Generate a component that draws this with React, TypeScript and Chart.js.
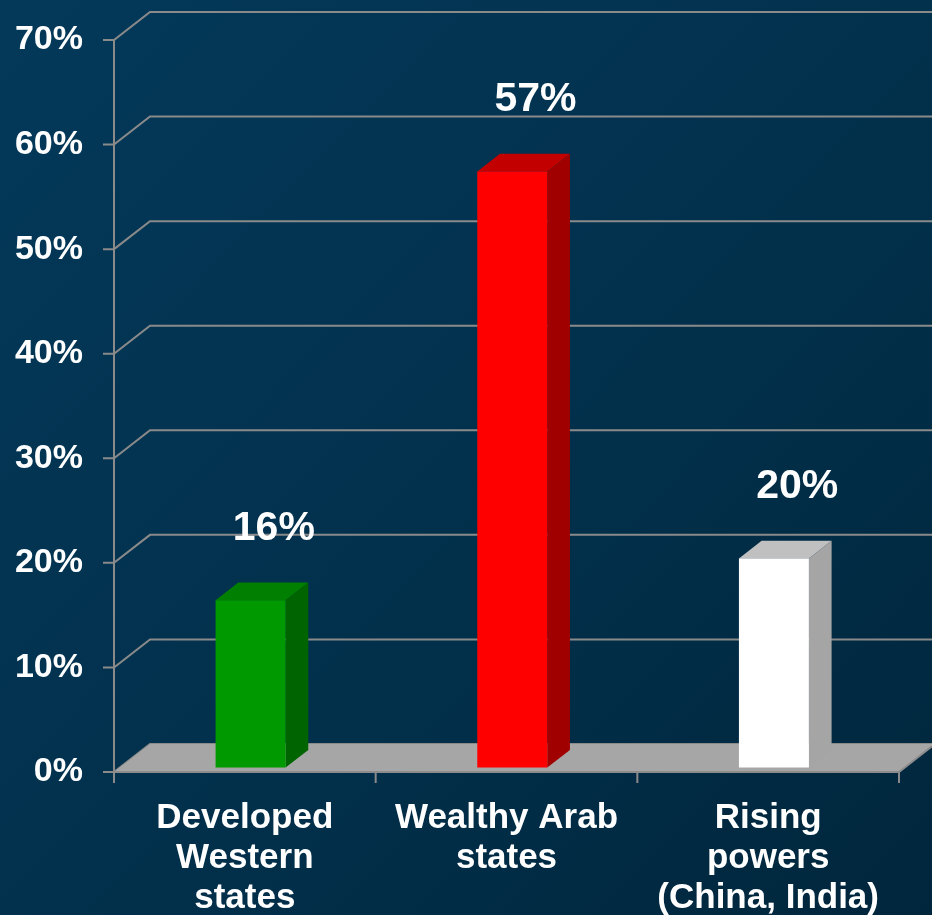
import React, { useEffect, useRef } from 'react';
import { Chart, registerables } from 'chart.js';

Chart.register(...registerables);

// ---- data ----
const categories: string[][] = [
  ['Developed', 'Western', 'states'],
  ['Wealthy Arab', 'states'],
  ['Rising', 'powers', '(China, India)'],
];
const shares: number[] = [16, 57, 20];
const yMin = 0;
const yMax = 70;
const yStep = 10;

// ---- styles ----
const FONT = '"Liberation Sans", Arial, Helvetica, sans-serif';
const FRONT_COLORS = ['#009a00', '#ff0000', '#ffffff'];
const TOP_COLORS = ['#007f00', '#c20000', '#c0c0c0'];
const SIDE_COLORS = ['#006400', '#a00000', '#a5a5a5'];
const GRID_COLOR = '#8a8a8a';
const FLOOR_COLOR = '#a6a6a6';
const FLOOR_EDGE = '#8c8c8c';

// 3D geometry (pixels)
const DEPTH_X = 36;
const DEPTH_Y = -28;
const BAR_OFF = 0.16; // fraction of depth where bar front sits
const BAR_DEPTH = 0.63; // fraction of depth occupied by bar
const TICK_LEN = 11;

const threeD = {
  id: 'threeD',
  beforeDraw(chart: any) {
    const { ctx, width, height } = chart;
    ctx.save();
    const g = ctx.createLinearGradient(0, 0, width, height);
    g.addColorStop(0, '#04395a');
    g.addColorStop(0.5, '#02314d');
    g.addColorStop(1, '#00263c');
    ctx.fillStyle = g;
    ctx.fillRect(0, 0, width, height);
    ctx.restore();
  },
  beforeDatasetsDraw(chart: any) {
    const { ctx, chartArea, scales } = chart;
    const x = scales.x;
    const y = scales.y;
    const L = chartArea.left;
    const R = chartArea.right;
    const y0 = y.getPixelForValue(yMin);
    ctx.save();
    ctx.lineWidth = 2;
    ctx.strokeStyle = GRID_COLOR;
    // walls: left wall diagonals + back wall horizontals + y tick marks
    y.ticks.forEach((t: any) => {
      const py = y.getPixelForValue(t.value);
      ctx.beginPath();
      ctx.moveTo(L - TICK_LEN, py);
      ctx.lineTo(L, py);
      ctx.lineTo(L + DEPTH_X, py + DEPTH_Y);
      ctx.lineTo(chart.width + DEPTH_X, py + DEPTH_Y);
      ctx.stroke();
    });
    // floor
    ctx.fillStyle = FLOOR_COLOR;
    ctx.beginPath();
    ctx.moveTo(L, y0);
    ctx.lineTo(L + DEPTH_X, y0 + DEPTH_Y);
    ctx.lineTo(R + DEPTH_X, y0 + DEPTH_Y);
    ctx.lineTo(R, y0);
    ctx.closePath();
    ctx.fill();
    ctx.strokeStyle = FLOOR_EDGE;
    ctx.beginPath();
    ctx.moveTo(L, y0);
    ctx.lineTo(R, y0);
    ctx.lineTo(R + DEPTH_X, y0 + DEPTH_Y);
    ctx.stroke();
    // front vertical axis line
    ctx.strokeStyle = GRID_COLOR;
    ctx.beginPath();
    ctx.moveTo(L, y.getPixelForValue(yMax));
    ctx.lineTo(L, y0 + TICK_LEN);
    ctx.stroke();
    // category ticks
    for (let i = 0; i <= categories.length; i++) {
      const px = x.getPixelForValue(i - 0.5);
      ctx.beginPath();
      ctx.moveTo(px, y0);
      ctx.lineTo(px, y0 + TICK_LEN);
      ctx.stroke();
    }
    ctx.restore();
  },
  afterDatasetsDraw(chart: any) {
    const { ctx, scales } = chart;
    const y = scales.y;
    const meta = chart.getDatasetMeta(0);
    const ox = DEPTH_X * BAR_OFF;
    const oy = DEPTH_Y * BAR_OFF;
    const bx = DEPTH_X * BAR_DEPTH;
    const by = DEPTH_Y * BAR_DEPTH;
    ctx.save();
    meta.data.forEach((el: any, i: number) => {
      const w = el.width;
      const left = el.x - w / 2 + ox;
      const right = left + w;
      const top = el.y + oy;
      const bottom = el.base + oy;
      // side
      ctx.fillStyle = SIDE_COLORS[i];
      ctx.beginPath();
      ctx.moveTo(right, top);
      ctx.lineTo(right + bx, top + by);
      ctx.lineTo(right + bx, bottom + by);
      ctx.lineTo(right, bottom);
      ctx.closePath();
      ctx.fill();
      // top
      ctx.fillStyle = TOP_COLORS[i];
      ctx.beginPath();
      ctx.moveTo(left, top);
      ctx.lineTo(left + bx, top + by);
      ctx.lineTo(right + bx, top + by);
      ctx.lineTo(right, top);
      ctx.closePath();
      ctx.fill();
      // front
      ctx.fillStyle = FRONT_COLORS[i];
      ctx.fillRect(left, top, w, bottom - top);
    });
    // value labels
    ctx.fillStyle = '#ffffff';
    ctx.font = `bold 41px ${FONT}`;
    ctx.textAlign = 'center';
    ctx.textBaseline = 'middle';
    meta.data.forEach((el: any, i: number) => {
      const v = shares[i];
      ctx.fillText(`${v}%`, el.x + 29, y.getPixelForValue(v) - 76);
    });
    ctx.restore();
  },
};

export default function App() {
  const ref = useRef<HTMLCanvasElement | null>(null);
  useEffect(() => {
    document.body.style.margin = '0';
    document.body.style.background = '#02314d';
    const canvas = ref.current;
    if (!canvas) return;
    const chart = new Chart(canvas, {
      type: 'bar',
      data: {
        labels: categories,
        datasets: [
          {
            data: shares,
            backgroundColor: 'rgba(0,0,0,0)',
            borderWidth: 0,
            barPercentage: 0.2675,
            categoryPercentage: 1,
          },
        ],
      },
      options: {
        responsive: false,
        animation: false,
        devicePixelRatio: 1,
        layout: { padding: { top: 40, right: 33, left: 0, bottom: 0 } },
        plugins: {
          legend: { display: false },
          tooltip: { enabled: false },
          title: { display: false },
        },
        scales: {
          x: {
            grid: { display: false, drawTicks: false },
            border: { display: false },
            ticks: {
              color: '#ffffff',
              padding: 26,
              maxRotation: 0,
              autoSkip: false,
              font: { family: FONT, size: 35, weight: 'bold', lineHeight: 40 / 35 },
            },
            afterFit: (s: any) => {
              s.height = 143;
              s.paddingLeft = 0;
              s.paddingRight = 0;
            },
          },
          y: {
            min: yMin,
            max: yMax,
            grid: { display: false, drawTicks: false },
            border: { display: false },
            ticks: {
              stepSize: yStep,
              color: '#ffffff',
              padding: 31,
              font: { family: FONT, size: 34, weight: 'bold' },
              callback: (v: any) => `${v}%`,
            },
            afterFit: (s: any) => {
              s.width = 114;
              s.paddingTop = 0;
              s.paddingBottom = 0;
            },
          },
        },
      },
      plugins: [threeD],
    });
    return () => chart.destroy();
  }, []);
  return (
    <div style={{ width: 932, height: 915 }}>
      <canvas ref={ref} width={932} height={915} style={{ display: 'block' }} />
    </div>
  );
}
